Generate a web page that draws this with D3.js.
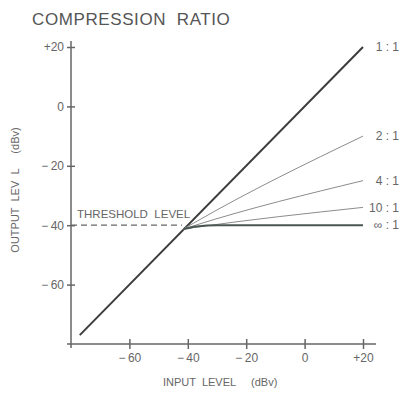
<!DOCTYPE html>
<html>
<head>
<meta charset="utf-8">
<script src="https://cdn.jsdelivr.net/npm/d3@7"></script>
<style>
  body{margin:0;background:#fff;}
  svg text{font-family:"Liberation Sans",Arial,sans-serif;fill:#666;white-space:pre;}
</style>
</head>
<body>
<svg id="chart" width="401" height="394"></svg>
<script>
// chart data
var ratioLabels = ["1 : 1","2 : 1","4 : 1","10 : 1","\u221e : 1"];
var inputLevels = [
  [-77, 20],
  [-41.5, -38, 20],
  [-41.5, -38, 20],
  [-41.5, -38, 20],
  [-41.5, -37, -30, 20]
];
var outputLevels = [
  [-77, 20],
  [-41.3, -39.3, -10],
  [-41.3, -40.2, -25],
  [-41.3, -40.8, -34],
  [-41.3, -40.4, -40, -40]
];
var tickValues = [-60, -40, -20, 0, 20];
var thresholdLevel = -40;

var svg = d3.select("#chart");
var x = d3.scaleLinear().domain([-80,20]).range([71,363]);
var y = d3.scaleLinear().domain([-80,20]).range([344,47]);

function fmt(d){
  if(d>0) return "+" + d;
  if(d<0) return "\u2212\u2009" + (-d);
  return "0";
}

// title
svg.append("text")
  .attr("x",32).attr("y",25)
  .style("font-size","17px")
  .style("letter-spacing","0.6px")
  .style("fill","#555")
  .text("COMPRESSION  RATIO");

// axes
var yAxis = svg.append("g").attr("transform","translate("+x(-80)+",0)")
  .call(d3.axisLeft(y).tickValues(tickValues).tickFormat(fmt).tickSize(4).tickPadding(3));
var xAxis = svg.append("g").attr("transform","translate(0,"+y(-80)+")")
  .call(d3.axisBottom(x).tickValues(tickValues).tickFormat(fmt).tickSize(4).tickPadding(5));

yAxis.select(".domain").remove();
xAxis.select(".domain").remove();
yAxis.append("line").attr("x1",0).attr("x2",0).attr("y1",41).attr("y2",348);
xAxis.append("line").attr("x1",67).attr("x2",376).attr("y1",0).attr("y2",0);
yAxis.selectAll("line").attr("stroke","#666").attr("stroke-width",1.5);
xAxis.selectAll("line").attr("stroke","#666").attr("stroke-width",1.5);
yAxis.selectAll(".tick line").attr("x1",4).attr("x2",-4);
xAxis.selectAll(".tick line").attr("y1",-5).attr("y2",5);
yAxis.selectAll("text").style("font-size","12px").attr("fill","#666");
xAxis.selectAll("text").style("font-size","12px").attr("fill","#666");

// threshold
svg.append("line")
  .attr("x1",x(-80)).attr("x2",x(-42))
  .attr("y1",y(thresholdLevel)).attr("y2",y(thresholdLevel))
  .attr("stroke","#666").attr("stroke-width",1.3)
  .attr("stroke-dasharray","6,4");
svg.append("text")
  .attr("x",77).attr("y",y(thresholdLevel)-7)
  .style("font-size","11.5px")
  .text("THRESHOLD  LEVEL");

// curves
var line = d3.line().x(function(d){return x(d[0]);}).y(function(d){return y(d[1]);})
  .curve(d3.curveMonotoneX);
var styles = [
  {c:"#3c3c3c",w:2},
  {c:"#8c8c8c",w:1},
  {c:"#8c8c8c",w:1},
  {c:"#8c8c8c",w:1},
  {c:"#4b5651",w:2}
];
ratioLabels.forEach(function(lbl,i){
  var pts = inputLevels[i].map(function(v,j){return [v,outputLevels[i][j]];});
  svg.append("path").datum(pts)
    .attr("d",line)
    .attr("fill","none")
    .attr("stroke",styles[i].c)
    .attr("stroke-width",styles[i].w);
  var last = pts[pts.length-1];
  svg.append("text")
    .attr("x",399).attr("y",y(last[1]))
    .attr("dy","0.35em")
    .attr("text-anchor","end")
    .style("font-size","12px")
    .text(lbl);
});

// axis titles
svg.append("text")
  .attr("x",163).attr("y",386)
  .style("font-size","11px")
  .text("INPUT  LEVEL     (dBv)");
svg.append("text")
  .attr("transform","translate(19,190) rotate(-90)")
  .attr("text-anchor","middle")
  .style("font-size","11px")
  .text("OUTPUT  LEV  L     (dBv)");
</script>
</body>
</html>
